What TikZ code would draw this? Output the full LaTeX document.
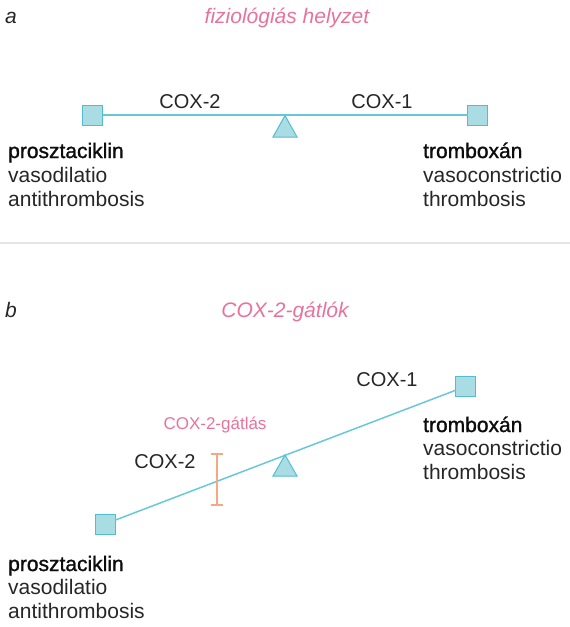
\documentclass[tikz,border=0pt]{standalone}
\usepackage{fontspec}
\setmainfont{Liberation Sans}
\newfontface\medface[FakeBold=1.3]{Liberation Sans}
\begin{document}
\begin{tikzpicture}[x=1pt,y=-1pt,
  txt/.style={anchor=base west,inner sep=0pt,text=black!85,font=\fontsize{21}{24}\selectfont},
  boldtxt/.style={txt,text=black!95,font=\fontsize{21}{24}\selectfont\medface},
  coxlbl/.style={anchor=base,inner sep=0pt,text=black!85,font=\fontsize{20}{24}\selectfont},
  pinktitle/.style={anchor=base,inner sep=0pt,text=pinkc,font=\fontsize{21}{24}\selectfont\itshape},
  pinklbl/.style={anchor=base,inner sep=0pt,text=pinkc,font=\fontsize{17}{20}\selectfont},
  panel/.style={anchor=base west,inner sep=0pt,text=black!85,font=\fontsize{21}{24}\selectfont\itshape},
  sq/.style={draw=cyanstroke,fill=cyanfill,line width=1pt,minimum size=20pt,inner sep=0pt,outer sep=0pt},
  beam/.style={draw=cyanline,line width=1.5pt},
  tri/.style={draw=cyanstroke,fill=cyanfill,line width=1pt,line join=miter},
  inhib/.style={draw=orangec,line width=1.4pt}
]
\definecolor{pinkc}{HTML}{E8739A}
\definecolor{cyanfill}{HTML}{A9DDE3}
\definecolor{cyanstroke}{HTML}{52BDD0}
\definecolor{cyanline}{HTML}{68C8DA}
\definecolor{orangec}{HTML}{F5A97E}
\useasboundingbox (0,0) rectangle (570,627);

% ---------- panel a ----------
\node[panel] (la) at (5,23) {a};
\node[pinktitle] (ta) at (287,23) {fiziológiás helyzet};

\node[sq] (a1) at (92.5,115) {};
\node[sq] (a2) at (477.5,115) {};
\draw[beam] (a1) -- (a2);
\draw[tri] (285,115.5) -- (297,137) -- (273,137) -- cycle;
\node[coxlbl] (ac2) at (190,108) {COX-2};
\node[coxlbl] (ac1) at (382,108) {COX-1};

\node[boldtxt] (ap1) at (8,158) {prosztaciklin};
\node[txt] (ap2) at (8,182) {vasodilatio};
\node[txt] (ap3) at (8,206) {antithrombosis};
\node[boldtxt] (at1) at (423,158) {tromboxán};
\node[txt] (at2) at (423,182) {vasoconstrictio};
\node[txt] (at3) at (423,206) {thrombosis};

% separator
\draw[black!10,line width=2.5pt] (0,243) -- (570,243);

% ---------- panel b ----------
\node[panel] (lb) at (5,317) {b};
\node[pinktitle] (tb) at (285,317) {COX-2-gátlók};

\node[sq] (b1) at (105,524) {};
\node[sq] (b2) at (465.5,386.5) {};
\draw[beam] (b1) -- (b2);
\draw[tri] (285,455) -- (297,476) -- (273,476) -- cycle;

\coordinate (it) at (217,454);
\coordinate (ib) at (217,505);
\draw[inhib] (it) -- (ib);
\draw[inhib] ([xshift=-6pt]it) -- ([xshift=6pt]it);
\draw[inhib] ([xshift=-6pt]ib) -- ([xshift=6pt]ib);

\node[coxlbl] (bc2) at (165,468) {COX-2};
\node[coxlbl] (bc1) at (387,386) {COX-1};
\node[pinklbl] (bg) at (215,429) {COX-2-gátlás};

\node[boldtxt] (bt1) at (423,432) {tromboxán};
\node[txt] (bt2) at (423,455) {vasoconstrictio};
\node[txt] (bt3) at (423,479) {thrombosis};
\node[boldtxt] (bp1) at (8,571) {prosztaciklin};
\node[txt] (bp2) at (8,594) {vasodilatio};
\node[txt] (bp3) at (8,618) {antithrombosis};
\end{tikzpicture}
\end{document}
